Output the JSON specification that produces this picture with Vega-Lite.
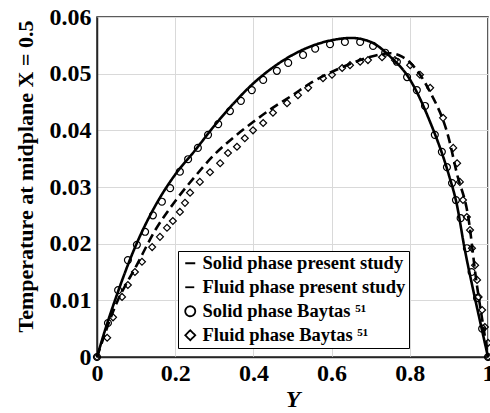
{
  "$schema": "https://vega.github.io/schema/vega-lite/v6.json",
  "width": 391,
  "height": 340,
  "autosize": {"type": "none"},
  "padding": {"left": 97, "top": 17, "right": 2, "bottom": 56},
  "background": "white",
  "config": {
    "view": {"stroke": "#262626", "strokeWidth": 1.5},
    "font": "Liberation Serif",
    "legend": {
      "orient": "none",
      "legendX": 81,
      "legendY": 234,
      "strokeColor": "#000000",
      "fillColor": "white",
      "padding": 3,
      "labelFont": "Liberation Serif",
      "labelFontWeight": "bold",
      "labelFontSize": 18.5,
      "labelColor": "#000000",
      "labelLimit": 400,
      "rowPadding": 5,
      "labelOffset": 3,
      "symbolSize": 100,
      "symbolStrokeWidth": 1.8,
      "symbolStrokeColor": "#000000",
      "symbolFillColor": "transparent"
    }
  },
  "datasets": {
    "lines": [
      {"series": "Solid phase present study", "Y": 0, "T": 0},
      {"series": "Solid phase present study", "Y": 0.02, "T": 0.0046},
      {"series": "Solid phase present study", "Y": 0.05, "T": 0.0108},
      {"series": "Solid phase present study", "Y": 0.1, "T": 0.0198},
      {"series": "Solid phase present study", "Y": 0.15, "T": 0.0268},
      {"series": "Solid phase present study", "Y": 0.2, "T": 0.0322},
      {"series": "Solid phase present study", "Y": 0.25, "T": 0.0364},
      {"series": "Solid phase present study", "Y": 0.3, "T": 0.0408},
      {"series": "Solid phase present study", "Y": 0.35, "T": 0.0448},
      {"series": "Solid phase present study", "Y": 0.4, "T": 0.0483},
      {"series": "Solid phase present study", "Y": 0.45, "T": 0.0511},
      {"series": "Solid phase present study", "Y": 0.5, "T": 0.0533},
      {"series": "Solid phase present study", "Y": 0.55, "T": 0.0549},
      {"series": "Solid phase present study", "Y": 0.6, "T": 0.0559},
      {"series": "Solid phase present study", "Y": 0.65, "T": 0.0563},
      {"series": "Solid phase present study", "Y": 0.7, "T": 0.0556},
      {"series": "Solid phase present study", "Y": 0.75, "T": 0.0530},
      {"series": "Solid phase present study", "Y": 0.8, "T": 0.0490},
      {"series": "Solid phase present study", "Y": 0.85, "T": 0.0418},
      {"series": "Solid phase present study", "Y": 0.9, "T": 0.0321},
      {"series": "Solid phase present study", "Y": 0.92, "T": 0.0270},
      {"series": "Solid phase present study", "Y": 0.94, "T": 0.0192},
      {"series": "Solid phase present study", "Y": 0.96, "T": 0.0125},
      {"series": "Solid phase present study", "Y": 0.98, "T": 0.0062},
      {"series": "Solid phase present study", "Y": 1, "T": 0},
      {"series": "Fluid phase present study", "Y": 0, "T": 0},
      {"series": "Fluid phase present study", "Y": 0.05, "T": 0.0095},
      {"series": "Fluid phase present study", "Y": 0.1, "T": 0.0160},
      {"series": "Fluid phase present study", "Y": 0.15, "T": 0.0225},
      {"series": "Fluid phase present study", "Y": 0.2, "T": 0.0275},
      {"series": "Fluid phase present study", "Y": 0.25, "T": 0.0318},
      {"series": "Fluid phase present study", "Y": 0.3, "T": 0.0357},
      {"series": "Fluid phase present study", "Y": 0.35, "T": 0.0388},
      {"series": "Fluid phase present study", "Y": 0.4, "T": 0.0415},
      {"series": "Fluid phase present study", "Y": 0.45, "T": 0.0440},
      {"series": "Fluid phase present study", "Y": 0.5, "T": 0.0462},
      {"series": "Fluid phase present study", "Y": 0.55, "T": 0.0485},
      {"series": "Fluid phase present study", "Y": 0.6, "T": 0.0503},
      {"series": "Fluid phase present study", "Y": 0.65, "T": 0.0518},
      {"series": "Fluid phase present study", "Y": 0.7, "T": 0.0530},
      {"series": "Fluid phase present study", "Y": 0.75, "T": 0.0536},
      {"series": "Fluid phase present study", "Y": 0.78, "T": 0.0530},
      {"series": "Fluid phase present study", "Y": 0.8, "T": 0.0520},
      {"series": "Fluid phase present study", "Y": 0.85, "T": 0.0470},
      {"series": "Fluid phase present study", "Y": 0.9, "T": 0.0385},
      {"series": "Fluid phase present study", "Y": 0.92, "T": 0.0325},
      {"series": "Fluid phase present study", "Y": 0.95, "T": 0.0245},
      {"series": "Fluid phase present study", "Y": 0.97, "T": 0.0135},
      {"series": "Fluid phase present study", "Y": 0.99, "T": 0.0045},
      {"series": "Fluid phase present study", "Y": 1, "T": 0}
    ],
    "points": [
      {"series": "Solid phase Baytas ⁵¹", "Y": 0, "T": 0},
      {"series": "Solid phase Baytas ⁵¹", "Y": 0.028, "T": 0.006},
      {"series": "Solid phase Baytas ⁵¹", "Y": 0.054, "T": 0.0118},
      {"series": "Solid phase Baytas ⁵¹", "Y": 0.079, "T": 0.0171},
      {"series": "Solid phase Baytas ⁵¹", "Y": 0.102, "T": 0.0198},
      {"series": "Solid phase Baytas ⁵¹", "Y": 0.123, "T": 0.0221},
      {"series": "Solid phase Baytas ⁵¹", "Y": 0.143, "T": 0.025},
      {"series": "Solid phase Baytas ⁵¹", "Y": 0.166, "T": 0.0274},
      {"series": "Solid phase Baytas ⁵¹", "Y": 0.187, "T": 0.0298},
      {"series": "Solid phase Baytas ⁵¹", "Y": 0.212, "T": 0.0327},
      {"series": "Solid phase Baytas ⁵¹", "Y": 0.233, "T": 0.0349},
      {"series": "Solid phase Baytas ⁵¹", "Y": 0.258, "T": 0.0369},
      {"series": "Solid phase Baytas ⁵¹", "Y": 0.284, "T": 0.0392},
      {"series": "Solid phase Baytas ⁵¹", "Y": 0.31, "T": 0.0411},
      {"series": "Solid phase Baytas ⁵¹", "Y": 0.34, "T": 0.0434},
      {"series": "Solid phase Baytas ⁵¹", "Y": 0.368, "T": 0.0452},
      {"series": "Solid phase Baytas ⁵¹", "Y": 0.396, "T": 0.0471},
      {"series": "Solid phase Baytas ⁵¹", "Y": 0.425, "T": 0.0489},
      {"series": "Solid phase Baytas ⁵¹", "Y": 0.46, "T": 0.0505},
      {"series": "Solid phase Baytas ⁵¹", "Y": 0.489, "T": 0.0519},
      {"series": "Solid phase Baytas ⁵¹", "Y": 0.527, "T": 0.0533},
      {"series": "Solid phase Baytas ⁵¹", "Y": 0.558, "T": 0.0544},
      {"series": "Solid phase Baytas ⁵¹", "Y": 0.596, "T": 0.0552},
      {"series": "Solid phase Baytas ⁵¹", "Y": 0.634, "T": 0.0556},
      {"series": "Solid phase Baytas ⁵¹", "Y": 0.673, "T": 0.0556},
      {"series": "Solid phase Baytas ⁵¹", "Y": 0.706, "T": 0.0549},
      {"series": "Solid phase Baytas ⁵¹", "Y": 0.737, "T": 0.0537},
      {"series": "Solid phase Baytas ⁵¹", "Y": 0.767, "T": 0.0521},
      {"series": "Solid phase Baytas ⁵¹", "Y": 0.793, "T": 0.0494},
      {"series": "Solid phase Baytas ⁵¹", "Y": 0.818, "T": 0.0471},
      {"series": "Solid phase Baytas ⁵¹", "Y": 0.839, "T": 0.0443},
      {"series": "Solid phase Baytas ⁵¹", "Y": 0.864, "T": 0.0392},
      {"series": "Solid phase Baytas ⁵¹", "Y": 0.882, "T": 0.0362},
      {"series": "Solid phase Baytas ⁵¹", "Y": 0.895, "T": 0.0335},
      {"series": "Solid phase Baytas ⁵¹", "Y": 0.908, "T": 0.0307},
      {"series": "Solid phase Baytas ⁵¹", "Y": 0.918, "T": 0.0277},
      {"series": "Solid phase Baytas ⁵¹", "Y": 0.93, "T": 0.0245},
      {"series": "Solid phase Baytas ⁵¹", "Y": 0.946, "T": 0.0192},
      {"series": "Solid phase Baytas ⁵¹", "Y": 0.958, "T": 0.015},
      {"series": "Solid phase Baytas ⁵¹", "Y": 0.972, "T": 0.0104},
      {"series": "Solid phase Baytas ⁵¹", "Y": 0.985, "T": 0.005},
      {"series": "Solid phase Baytas ⁵¹", "Y": 1, "T": 0},
      {"series": "Fluid phase Baytas ⁵¹", "Y": 0, "T": 0},
      {"series": "Fluid phase Baytas ⁵¹", "Y": 0.026, "T": 0.0034},
      {"series": "Fluid phase Baytas ⁵¹", "Y": 0.041, "T": 0.007},
      {"series": "Fluid phase Baytas ⁵¹", "Y": 0.064, "T": 0.0106},
      {"series": "Fluid phase Baytas ⁵¹", "Y": 0.079, "T": 0.0127},
      {"series": "Fluid phase Baytas ⁵¹", "Y": 0.097, "T": 0.015},
      {"series": "Fluid phase Baytas ⁵¹", "Y": 0.115, "T": 0.0168},
      {"series": "Fluid phase Baytas ⁵¹", "Y": 0.141, "T": 0.0194},
      {"series": "Fluid phase Baytas ⁵¹", "Y": 0.161, "T": 0.0212},
      {"series": "Fluid phase Baytas ⁵¹", "Y": 0.179, "T": 0.0228},
      {"series": "Fluid phase Baytas ⁵¹", "Y": 0.194, "T": 0.0240},
      {"series": "Fluid phase Baytas ⁵¹", "Y": 0.212, "T": 0.0256},
      {"series": "Fluid phase Baytas ⁵¹", "Y": 0.225, "T": 0.0272},
      {"series": "Fluid phase Baytas ⁵¹", "Y": 0.238, "T": 0.029},
      {"series": "Fluid phase Baytas ⁵¹", "Y": 0.263, "T": 0.0309},
      {"series": "Fluid phase Baytas ⁵¹", "Y": 0.289, "T": 0.0326},
      {"series": "Fluid phase Baytas ⁵¹", "Y": 0.315, "T": 0.0342},
      {"series": "Fluid phase Baytas ⁵¹", "Y": 0.335, "T": 0.036},
      {"series": "Fluid phase Baytas ⁵¹", "Y": 0.358, "T": 0.0371},
      {"series": "Fluid phase Baytas ⁵¹", "Y": 0.378, "T": 0.0386},
      {"series": "Fluid phase Baytas ⁵¹", "Y": 0.399, "T": 0.04},
      {"series": "Fluid phase Baytas ⁵¹", "Y": 0.425, "T": 0.0413},
      {"series": "Fluid phase Baytas ⁵¹", "Y": 0.45, "T": 0.0431},
      {"series": "Fluid phase Baytas ⁵¹", "Y": 0.486, "T": 0.0448},
      {"series": "Fluid phase Baytas ⁵¹", "Y": 0.514, "T": 0.0462},
      {"series": "Fluid phase Baytas ⁵¹", "Y": 0.54, "T": 0.0475},
      {"series": "Fluid phase Baytas ⁵¹", "Y": 0.578, "T": 0.0492},
      {"series": "Fluid phase Baytas ⁵¹", "Y": 0.601, "T": 0.0498},
      {"series": "Fluid phase Baytas ⁵¹", "Y": 0.627, "T": 0.051},
      {"series": "Fluid phase Baytas ⁵¹", "Y": 0.647, "T": 0.0515},
      {"series": "Fluid phase Baytas ⁵¹", "Y": 0.673, "T": 0.0521},
      {"series": "Fluid phase Baytas ⁵¹", "Y": 0.693, "T": 0.0524},
      {"series": "Fluid phase Baytas ⁵¹", "Y": 0.729, "T": 0.0529},
      {"series": "Fluid phase Baytas ⁵¹", "Y": 0.762, "T": 0.0524},
      {"series": "Fluid phase Baytas ⁵¹", "Y": 0.801, "T": 0.0515},
      {"series": "Fluid phase Baytas ⁵¹", "Y": 0.826, "T": 0.0498},
      {"series": "Fluid phase Baytas ⁵¹", "Y": 0.852, "T": 0.0475},
      {"series": "Fluid phase Baytas ⁵¹", "Y": 0.885, "T": 0.0422},
      {"series": "Fluid phase Baytas ⁵¹", "Y": 0.911, "T": 0.0369},
      {"series": "Fluid phase Baytas ⁵¹", "Y": 0.921, "T": 0.0342},
      {"series": "Fluid phase Baytas ⁵¹", "Y": 0.928, "T": 0.0309},
      {"series": "Fluid phase Baytas ⁵¹", "Y": 0.936, "T": 0.0277},
      {"series": "Fluid phase Baytas ⁵¹", "Y": 0.946, "T": 0.0247},
      {"series": "Fluid phase Baytas ⁵¹", "Y": 0.954, "T": 0.0224},
      {"series": "Fluid phase Baytas ⁵¹", "Y": 0.959, "T": 0.0192},
      {"series": "Fluid phase Baytas ⁵¹", "Y": 0.967, "T": 0.0162},
      {"series": "Fluid phase Baytas ⁵¹", "Y": 0.972, "T": 0.0136},
      {"series": "Fluid phase Baytas ⁵¹", "Y": 0.976, "T": 0.0106},
      {"series": "Fluid phase Baytas ⁵¹", "Y": 0.985, "T": 0.0083},
      {"series": "Fluid phase Baytas ⁵¹", "Y": 0.992, "T": 0.0053},
      {"series": "Fluid phase Baytas ⁵¹", "Y": 1, "T": 0.0025},
      {"series": "Fluid phase Baytas ⁵¹", "Y": 1, "T": 0}
    ]
  },
  "encoding": {
    "x": {
      "field": "Y",
      "type": "quantitative",
      "scale": {"domain": [0, 1], "nice": false},
      "axis": {
        "values": [0, 0.2, 0.4, 0.6, 0.8, 1],
        "labelExpr": "datum.value == 0 ? '0' : datum.value == 1 ? '1' : format(datum.value, '.1f')",
        "labelFlush": false,
        "labelOverlap": false,
        "labelFont": "Liberation Serif",
        "labelFontWeight": "bold",
        "labelFontSize": 24,
        "labelColor": "#000000",
        "labelPadding": 4,
        "ticks": false,
        "domainColor": "#262626",
        "domainWidth": 1.5,
        "gridColor": "#d9d9d9",
        "gridWidth": 1,
        "title": "Y",
        "titleFont": "Liberation Serif",
        "titleFontWeight": "bold",
        "titleFontStyle": "italic",
        "titleFontSize": 24,
        "titleColor": "#000000",
        "titlePadding": 2
      }
    },
    "y": {
      "field": "T",
      "type": "quantitative",
      "scale": {"domain": [0, 0.06], "nice": false},
      "axis": {
        "values": [0, 0.01, 0.02, 0.03, 0.04, 0.05, 0.06],
        "labelExpr": "datum.value == 0 ? '0' : format(datum.value, '.2f')",
        "labelFlush": false,
        "labelOverlap": false,
        "labelFont": "Liberation Serif",
        "labelFontWeight": "bold",
        "labelFontSize": 24,
        "labelColor": "#000000",
        "labelPadding": 6,
        "ticks": false,
        "domainColor": "#262626",
        "domainWidth": 1.5,
        "gridColor": "#d9d9d9",
        "gridWidth": 1,
        "title": "Temperature at midplane X = 0.5",
        "titleFont": "Liberation Serif",
        "titleFontWeight": "bold",
        "titleFontSize": 22,
        "titleColor": "#000000",
        "titleX": -65,
        "titleY": 159,
        "titleBaseline": "alphabetic"
      }
    }
  },
  "layer": [
    {
      "data": {"name": "lines"},
      "mark": {"type": "line", "interpolate": "monotone", "strokeWidth": 2.6},
      "encoding": {
        "color": {
          "field": "series",
          "type": "nominal",
          "scale": {
            "domain": ["Solid phase present study", "Fluid phase present study", "Solid phase Baytas ⁵¹", "Fluid phase Baytas ⁵¹"],
            "range": ["#000000", "#000000", "#000000", "#000000"]
          },
          "legend": {"title": null}
        },
        "strokeDash": {
          "field": "series",
          "type": "nominal",
          "scale": {
            "domain": ["Solid phase present study", "Fluid phase present study", "Solid phase Baytas ⁵¹", "Fluid phase Baytas ⁵¹"],
            "range": [[1, 0], [9, 5], [1, 0], [1, 0]]
          },
          "legend": {"title": null}
        }
      }
    },
    {
      "data": {"name": "points"},
      "mark": {"type": "point", "filled": false, "opacity": 1, "size": 48, "strokeWidth": 1.2},
      "encoding": {
        "color": {"field": "series", "type": "nominal", "legend": {"title": null}},
        "shape": {
          "field": "series",
          "type": "nominal",
          "scale": {
            "domain": ["Solid phase present study", "Fluid phase present study", "Solid phase Baytas ⁵¹", "Fluid phase Baytas ⁵¹"],
            "range": ["stroke", "stroke", "circle", "diamond"]
          },
          "legend": {"title": null}
        }
      }
    }
  ]
}
